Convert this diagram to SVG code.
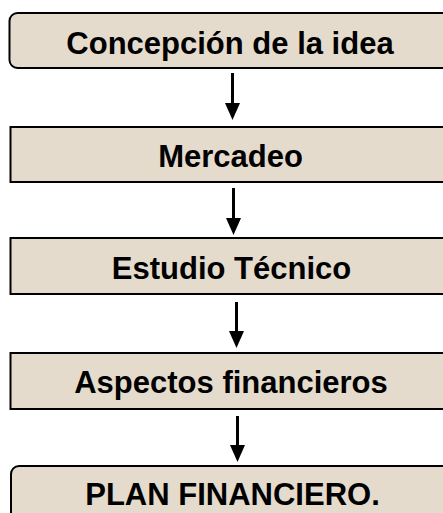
<svg xmlns="http://www.w3.org/2000/svg" width="443" height="513" viewBox="0 0 443 513">
<style>
.box{fill:#e4dbcc;stroke:#000;stroke-width:2}
.lbl{font-family:"Liberation Sans",Arial,sans-serif;font-weight:bold;font-size:31px;fill:#000;text-anchor:middle}
.con{stroke:#000;stroke-width:3;fill:none}
.head{fill:#000}
</style>
<rect width="443" height="513" fill="#fff"/>
<g id="connectors">
<path class="con" d="M232.5,73 L232.5,104"/><path class="head" d="M225,103 L240,103 L232.5,120 Z"/>
<path class="con" d="M233.5,188 L233.5,219"/><path class="head" d="M226,218 L241,218 L233.5,235 Z"/>
<path class="con" d="M236.5,302 L236.5,332"/><path class="head" d="M229,331 L244,331 L236.5,348 Z"/>
<path class="con" d="M237.5,416 L237.5,446"/><path class="head" d="M230,445 L245,445 L237.5,462 Z"/>
</g>
<g id="n1"><rect class="box" x="9.5" y="13" width="460" height="55" rx="8"/><text class="lbl" x="230" y="54">Concepción de la idea</text></g>
<g id="n2"><rect class="box" x="10.5" y="127" width="460" height="55"/><text class="lbl" x="230.5" y="167">Mercadeo</text></g>
<g id="n3"><rect class="box" x="10.5" y="238" width="460" height="56"/><text class="lbl" x="231.5" y="279">Estudio Técnico</text></g>
<g id="n4"><rect class="box" x="10.5" y="353" width="460" height="56"/><text class="lbl" x="231" y="393">Aspectos financieros</text></g>
<g id="n5"><rect class="box" x="11" y="466" width="460" height="70" rx="8"/><text class="lbl" x="232.5" y="505">PLAN FINANCIERO.</text></g>
</svg>
